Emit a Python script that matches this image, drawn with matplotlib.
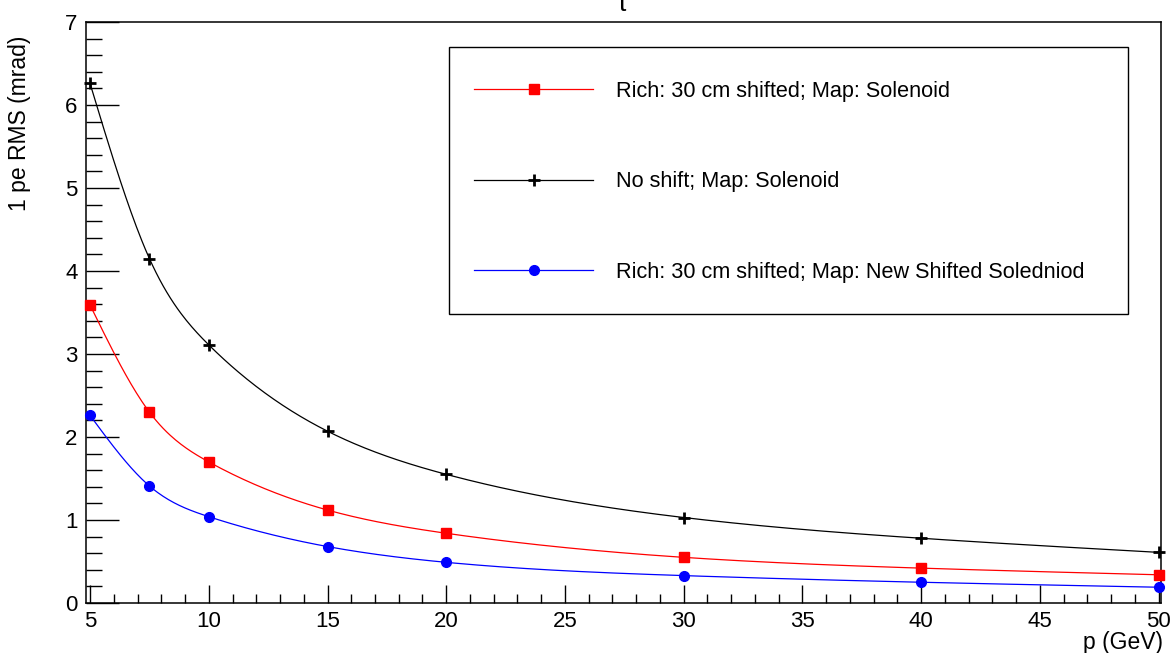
import numpy as np
import matplotlib
matplotlib.use("Agg")
import matplotlib.pyplot as plt
from matplotlib.patches import Rectangle
from matplotlib.ticker import MultipleLocator

plt.rcParams['font.family'] = ['Liberation Sans', 'DejaVu Sans']

# ---- data ----
p_gev = [5, 7.5, 10, 15, 20, 30, 40, 50]
rms_shift_solenoid = [3.59, 2.30, 1.70, 1.12, 0.84, 0.55, 0.42, 0.34]
rms_noshift_solenoid = [6.26, 4.15, 3.11, 2.07, 1.55, 1.03, 0.78, 0.61]
rms_shift_newmap = [2.26, 1.41, 1.04, 0.68, 0.49, 0.33, 0.25, 0.19]

labels = ["Rich: 30 cm shifted; Map: Solenoid",
          "No shift; Map: Solenoid",
          "Rich: 30 cm shifted; Map: New Shifted Soledniod"]
xlabel = "p (GeV)"
ylabel = "1 pe RMS (mrad)"


def smooth_curve(x, y, n=600):
    """Natural cubic spline through the data points (for drawing the line)."""
    x = np.asarray(x, float)
    y = np.asarray(y, float)
    k = len(x)
    h = np.diff(x)
    A = np.zeros((k, k))
    b = np.zeros(k)
    A[0, 0] = 1.0
    A[-1, -1] = 1.0
    for i in range(1, k - 1):
        A[i, i - 1] = h[i - 1]
        A[i, i] = 2 * (h[i - 1] + h[i])
        A[i, i + 1] = h[i]
        b[i] = 6 * ((y[i + 1] - y[i]) / h[i] - (y[i] - y[i - 1]) / h[i - 1])
    M = np.linalg.solve(A, b)
    xs = np.linspace(x[0], x[-1], n)
    idx = np.clip(np.searchsorted(x, xs) - 1, 0, k - 2)
    x0, x1 = x[idx], x[idx + 1]
    y0, y1 = y[idx], y[idx + 1]
    M0, M1 = M[idx], M[idx + 1]
    hh = x1 - x0
    ys = (M0 * (x1 - xs) ** 3 / (6 * hh) + M1 * (xs - x0) ** 3 / (6 * hh)
          + (y0 / hh - M0 * hh / 6) * (x1 - xs) + (y1 / hh - M1 * hh / 6) * (xs - x0))
    return xs, ys


W, H = 1171, 653
fig = plt.figure(figsize=(W / 100, H / 100), dpi=100)
ax = fig.add_axes([86 / W, 1 - 603 / H, (1161 - 86) / W, (603 - 22) / H])

series = [
    (rms_shift_solenoid, '#ff0000', 's', 7.5, 1.0),
    (rms_noshift_solenoid, '#000000', '+', 8.5, 2.0),
    (rms_shift_newmap, '#0000ff', 'o', 7, 1.0),
]
handles = []
for vals, col, mk, ms, mew in series:
    xs, ys = smooth_curve(p_gev, vals)
    ax.plot(xs, ys, color=col, lw=0.9, zorder=2)
    ax.plot(p_gev, vals, ls='none', marker=mk, ms=ms, mew=mew,
            color=col, mec=col, zorder=3, clip_on=False)
    h, = ax.plot([], [], color=col, lw=0.9, marker=mk, ms=ms, mew=mew, mec=col)
    handles.append(h)

ax.set_xlim(4.83, 50.1)
ax.set_ylim(0, 7)

ax.xaxis.set_major_locator(MultipleLocator(5))
ax.xaxis.set_minor_locator(MultipleLocator(1))
ax.yaxis.set_major_locator(MultipleLocator(1))
ax.yaxis.set_minor_locator(MultipleLocator(0.2))

ax.tick_params(axis='both', which='both', direction='in', top=False, right=False,
               width=1.0, labelsize=16)
ax.tick_params(axis='x', which='major', length=13, pad=6)
ax.tick_params(axis='x', which='minor', length=6.5)
ax.tick_params(axis='y', which='major', length=24, pad=6)
ax.tick_params(axis='y', which='minor', length=11.5)
for s in ax.spines.values():
    s.set_linewidth(1.1)

# legend box (ROOT style TLegend)
box_l, box_r, box_t, box_b = 449, 1128, 47, 314
ax_l, ax_r, ax_t, ax_b = 86, 1161, 22, 603
fx = lambda px: (px - ax_l) / (ax_r - ax_l)
fy = lambda py: (ax_b - py) / (ax_b - ax_t)
ax.add_patch(Rectangle((fx(box_l), fy(box_b)), fx(box_r) - fx(box_l), fy(box_t) - fy(box_b),
                       transform=ax.transAxes, fill=True, facecolor='white',
                       edgecolor='black', lw=1.0, zorder=5))
leg = ax.legend(handles, labels, loc='upper left',
                bbox_to_anchor=(fx(474), fy(81)), frameon=False,
                fontsize=15.6, handlelength=5.5, handletextpad=1.05,
                labelspacing=3.2, borderpad=0, borderaxespad=0,
                numpoints=1)
leg.set_zorder(6)

fig.text(20 / W, 1 - 36 / H, ylabel, rotation=90, ha='center', va='top', fontsize=16.5)
fig.text(1163 / W, 1 - 642 / H, xlabel, ha='right', va='center', fontsize=16.5)

# partially visible title fragment at the top
fig.text(622 / W, 1 - 11 / H, "t", ha='center', va='baseline', fontsize=19)

fig.savefig("out.png", dpi=100)
